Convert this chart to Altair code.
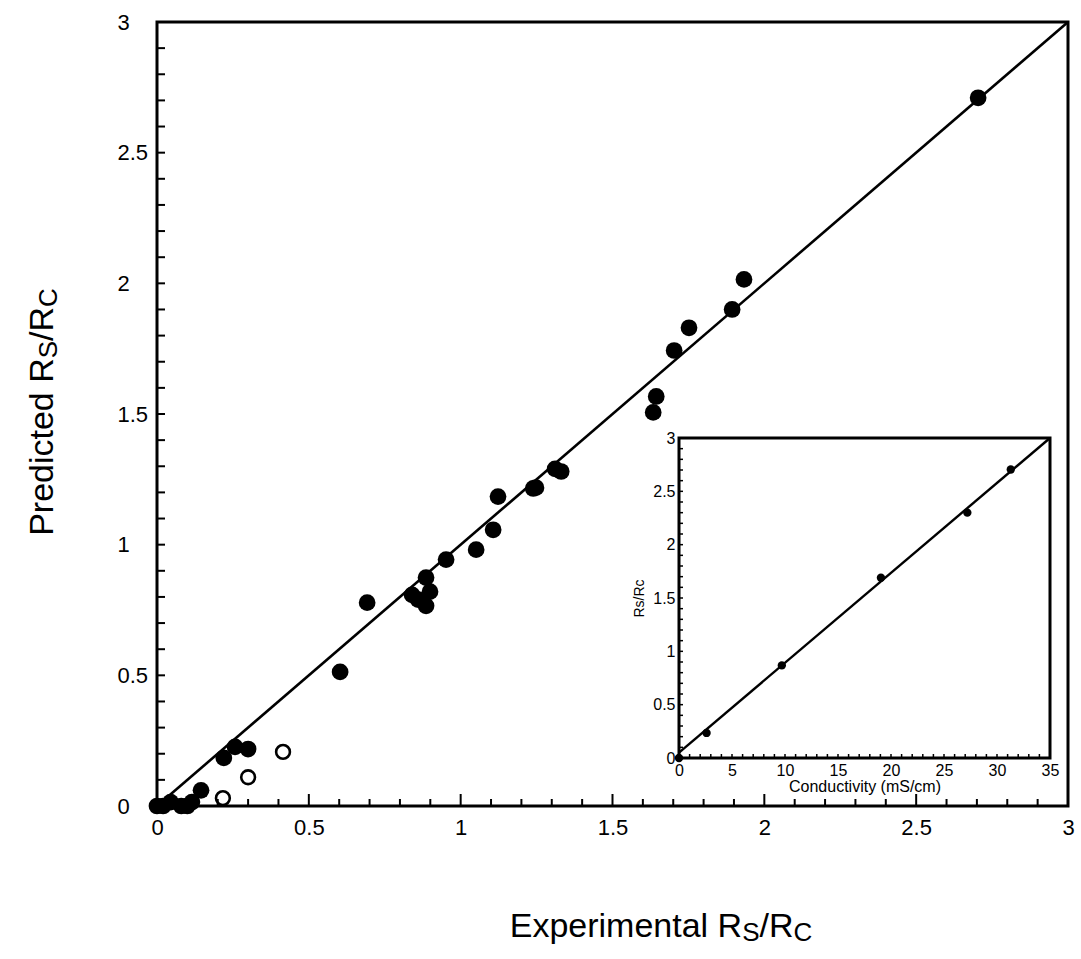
import altair as alt
import pandas as pd

# ---------------- data ----------------
exp_filled = [0.0, 0.02, 0.045, 0.08, 0.10, 0.115, 0.145, 0.22, 0.257, 0.30,
              0.603, 0.692, 0.84, 0.86, 0.886, 0.886, 0.899, 0.952, 1.051,
              1.107, 1.123, 1.239, 1.248, 1.311, 1.331, 1.634, 1.644, 1.703,
              1.752, 1.894, 1.933, 2.704]
pred_filled = [0.0, 0.0, 0.015, 0.0, 0.0, 0.015, 0.06, 0.184, 0.226, 0.218,
               0.513, 0.778, 0.808, 0.79, 0.874, 0.766, 0.82, 0.943, 0.981,
               1.057, 1.184, 1.215, 1.218, 1.29, 1.28, 1.506, 1.567, 1.743,
               1.83, 1.90, 2.015, 2.71]
exp_open = [0.217, 0.30, 0.415]
pred_open = [0.03, 0.11, 0.207]
fit_x = [0.0, 3.0]
fit_y = [0.0, 3.0]
main_ticks = [0, 0.5, 1, 1.5, 2, 2.5, 3]
main_minor = [0.1, 0.2, 0.3, 0.4, 0.6, 0.7, 0.8, 0.9, 1.1, 1.2, 1.3, 1.4,
              1.6, 1.7, 1.8, 1.9, 2.1, 2.2, 2.3, 2.4, 2.6, 2.7, 2.8, 2.9]
main_major = [0.5, 1.0, 1.5, 2.0, 2.5]

cond = [0.0, 2.6, 9.7, 19.05, 27.2, 31.3]
rs_rc = [0.0, 0.235, 0.868, 1.69, 2.30, 2.705]
inset_fit_x = [0.0, 35.0]
inset_fit_y = [0.05, 3.0]
inset_xticks = [0, 5, 10, 15, 20, 25, 30, 35]
inset_yticks = [0, 0.5, 1, 1.5, 2, 2.5, 3]
inset_xminor = list(range(1, 35))
inset_yminor = [round(0.1 * i, 1) for i in range(1, 30)]

# ---------------- layout ----------------
W, H = 911, 784
PAD_L, PAD_T = 157, 22
FONT = "Liberation Sans"
# inset position inside the plot area (pixels)
IX0, IX1 = 522, 893
IY0, IY1 = 736, 416

CW = {"E": 667, "x": 500, "p": 556, "e": 556, "r": 333, "i": 222, "m": 833,
      "n": 556, "t": 278, "a": 556, "l": 222, " ": 278, "R": 722, "S": 667,
      "C": 722, "/": 278, "P": 667, "d": 556, "c": 500}


def tw(s, size):
    return sum(CW.get(ch, 556) for ch in s) / 1000.0 * size


def sub_title(pieces, center, base, vertical=False):
    total = sum(tw(s, f) for s, f, _ in pieces)
    layers = []
    pos = center - total / 2 if not vertical else center + total / 2
    for s, f, shift in pieces:
        if vertical:
            m = alt.Chart(alt.Data(values=[{}])).mark_text(
                align="left", baseline="alphabetic", fontSize=f, font=FONT,
                angle=270, color="black").encode(
                x=alt.value(base + shift), y=alt.value(pos), text=alt.value(s))
            pos -= tw(s, f)
        else:
            m = alt.Chart(alt.Data(values=[{}])).mark_text(
                align="left", baseline="alphabetic", fontSize=f, font=FONT,
                color="black").encode(
                x=alt.value(pos), y=alt.value(base + shift), text=alt.value(s))
            pos += tw(s, f)
        layers.append(m)
    return layers


# ---------------- main plot ----------------
xs = alt.Scale(domain=[0, 3], nice=False, zero=False)
ys = alt.Scale(domain=[0, 3], nice=False, zero=False)
x_axis = alt.Axis(values=main_ticks, format="~g", ticks=False, tickSize=0,
                  domain=False, grid=False, labelFontSize=22, labelPadding=11,
                  labelFlush=False, labelOverlap=False,
                  labelFont=FONT, labelColor="black", title=None)
y_axis = alt.Axis(values=main_ticks, format="~g", ticks=False, tickSize=0,
                  domain=False, grid=False, labelFontSize=22, labelPadding=40,
                  labelFlush=False, labelOverlap=False,
                  labelAlign="left", labelFont=FONT, labelColor="black",
                  title=None)
X = lambda: alt.X("x:Q", scale=xs, axis=x_axis)
Y = lambda: alt.Y("y:Q", scale=ys, axis=y_axis)

filled_df = pd.DataFrame({"x": exp_filled, "y": pred_filled})
open_df = pd.DataFrame({"x": exp_open, "y": pred_open})
fit_df = pd.DataFrame({"x": fit_x, "y": fit_y})

fit = alt.Chart(fit_df).mark_line(color="black", strokeWidth=2.6).encode(x=X(), y=Y())
pts = alt.Chart(filled_df).mark_circle(size=280, color="black", opacity=1).encode(x=X(), y=Y())
opn = alt.Chart(open_df).mark_point(shape="circle", size=190, filled=False,
                                   color="black", strokeWidth=2.6, opacity=1).encode(x=X(), y=Y())

xminor = alt.Chart(pd.DataFrame({"x": main_minor})).mark_rule(color="black", strokeWidth=2).encode(
    x=X(), y=alt.value(H), y2=alt.value(H - 7))
xmajor = alt.Chart(pd.DataFrame({"x": main_major})).mark_rule(color="black", strokeWidth=2).encode(
    x=X(), y=alt.value(H), y2=alt.value(H - 12))
yminor = alt.Chart(pd.DataFrame({"y": main_minor + main_major})).mark_rule(color="black", strokeWidth=2).encode(
    y=Y(), x=alt.value(0), x2=alt.value(8))

x_title = sub_title([("Experimental R", 34, 0), ("S", 26, 4), ("/R", 34, 0), ("C", 26, 4)],
                    center=661 - PAD_L, base=937 - PAD_T)
y_title = sub_title([("Predicted R", 34, 0), ("S", 26, 4), ("/R", 34, 0), ("C", 26, 4)],
                    center=412 - PAD_T, base=53 - PAD_L, vertical=True)

main = alt.layer(fit, pts, opn, xminor, xmajor, yminor, *x_title, *y_title)

# ---------------- inset ----------------
ixs = alt.Scale(domain=[0, 35], range=[IX0, IX1], nice=False, zero=False)
iys = alt.Scale(domain=[0, 3], range=[IY0, IY1], nice=False, zero=False)
ix_axis = alt.Axis(values=inset_xticks, format="~g", ticks=False, tickSize=0,
                   domain=False, grid=False, orient="bottom", offset=-(H - IY0),
                   labelFlush=False, labelOverlap=False,
                   labelFontSize=16, labelPadding=4, labelFont=FONT,
                   labelColor="black", title="Conductivity (mS/cm)",
                   titleFontSize=16, titleFontWeight="normal", titleFont=FONT,
                   titleColor="black", titlePadding=0)
iy_axis = alt.Axis(values=inset_yticks, format="~g", ticks=False, tickSize=0,
                   domain=False, grid=False, orient="left", offset=-IX0,
                   labelFlush=False, labelOverlap=False,
                   labelFontSize=16, labelPadding=4, labelFont=FONT,
                   labelColor="black", title="Rs/Rc", titleFontSize=14,
                   titleFontWeight="normal", titleFont=FONT,
                   titleColor="black", titlePadding=6)
IX = lambda f="x": alt.X(f"{f}:Q", scale=ixs, axis=ix_axis)
IY = lambda f="y": alt.Y(f"{f}:Q", scale=iys, axis=iy_axis)

frame_df = pd.DataFrame({"x": [inset_fit_x[0]], "x2": [inset_fit_x[1]],
                         "y": [inset_yticks[0]], "y2": [inset_yticks[-1]]})
iframe = alt.Chart(frame_df).mark_rect(fill="white", stroke="black", strokeWidth=3).encode(
    x=IX(), x2="x2:Q", y=IY(), y2="y2:Q")
ifit = alt.Chart(pd.DataFrame({"x": inset_fit_x, "y": inset_fit_y})).mark_line(
    color="black", strokeWidth=2.4).encode(x=IX(), y=IY())
ipts = alt.Chart(pd.DataFrame({"x": cond, "y": rs_rc})).mark_circle(
    size=70, color="black", opacity=1).encode(x=IX(), y=IY())
ixt = alt.Chart(pd.DataFrame({"x": inset_xminor})).mark_rule(color="black", strokeWidth=1.5).encode(
    x=IX(), y=alt.value(IY0), y2=alt.value(IY0 - 4))
iyt = alt.Chart(pd.DataFrame({"y": inset_yminor})).mark_rule(color="black", strokeWidth=1.5).encode(
    y=IY(), x=alt.value(IX0), x2=alt.value(IX0 + 4))

inset = alt.layer(iframe, ixt, iyt, ifit, ipts)

chart = alt.layer(main, inset).resolve_scale(x="independent", y="independent").properties(
    width=W, height=H,
    autosize=alt.AutoSizeParams(type="none"),
    padding={"left": PAD_L, "top": PAD_T, "right": 1081 - PAD_L - W, "bottom": 959 - PAD_T - H},
    background="white",
).configure_view(stroke="black", strokeWidth=3).configure_axis(grid=False)

chart.save("out.html", embed_options={"renderer": "svg", "actions": False})
